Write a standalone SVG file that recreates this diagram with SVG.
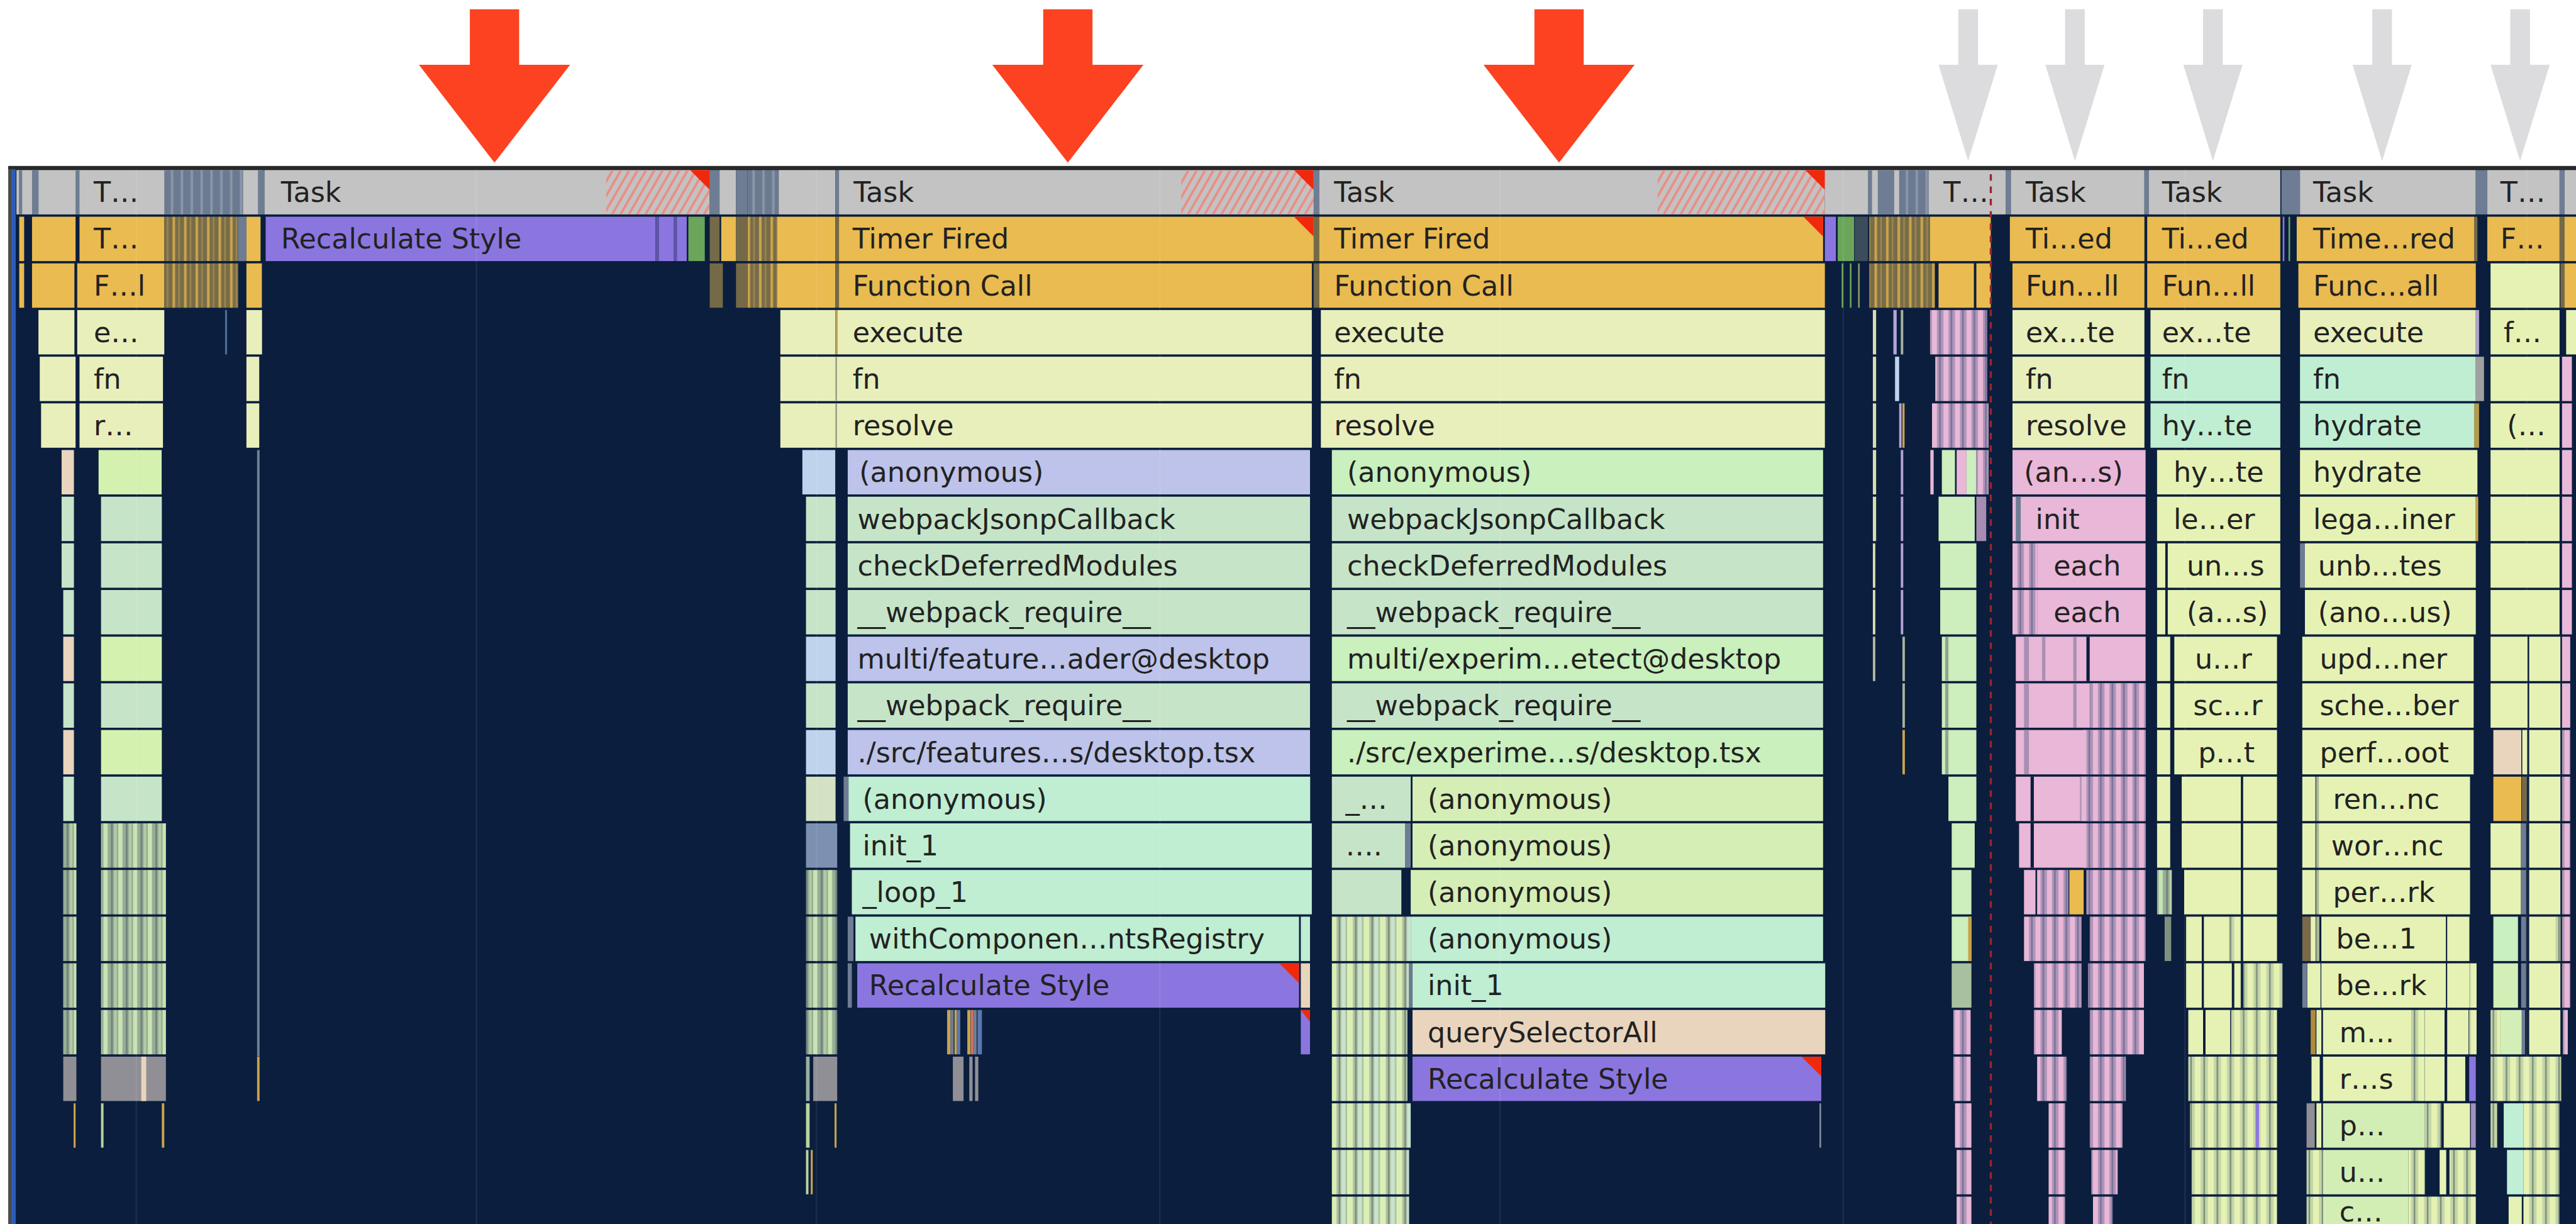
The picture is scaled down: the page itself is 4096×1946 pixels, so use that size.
<svg xmlns="http://www.w3.org/2000/svg" width="4096" height="1946" viewBox="0 0 4096 1946">
<style>
.tk{fill:#c3c3c3}.or{fill:#e9bb50}.ye{fill:#e8efbb}.y2{fill:#e6f2b4}.lv{fill:#bdc3ea}.mn{fill:#c6e5c8}.tl{fill:#bfeed3}.gr{fill:#c9f0bd}.yg{fill:#d5eeb6}.pc{fill:#e9d5bd}.pu{fill:#8b76e0}.pk{fill:#e9b7d7}.lb{fill:#c0d3ec}.sl{fill:#6e7d93}.gn{fill:#6aa55a}.ol{fill:#756a48}.gy{fill:#8f8f95}.lg{fill:#d4f1b0}
.hat{fill:url(#hatch)}.olst{fill:url(#olst)}.slst{fill:url(#slst)}.gst{fill:url(#gst)}.cst{fill:url(#cst)}.yst{fill:url(#yst)}.pst{fill:url(#pst)}
text{font-family:"DejaVu Sans","Liberation Sans",sans-serif;font-size:17px;fill:#222}
.tri{fill:#f0290d}.ra{fill:#fc4220}.ga{fill:#dcdcde}
.grid{stroke:#ffffff;stroke-opacity:0.07;stroke-width:1}
</style>
<defs>
<pattern id="hatch" patternUnits="userSpaceOnUse" width="4.4" height="20" patternTransform="rotate(30)"><rect width="1.5" height="20" fill="#ea8e86"/></pattern>
<pattern id="olst" patternUnits="userSpaceOnUse" width="7" height="30"><rect width="7" height="30" fill="#786c48"/><rect width="1.6" height="30" fill="#c9a34c"/><rect x="3.5" width="1" height="30" fill="#9a8650"/></pattern>
<pattern id="slst" patternUnits="userSpaceOnUse" width="6" height="30"><rect width="6" height="30" fill="#6b7a90"/><rect x="2" width="1.5" height="30" fill="#8a96a8"/></pattern>
<pattern id="gst" patternUnits="userSpaceOnUse" width="9" height="30"><rect width="9" height="30" fill="#98ad96"/><rect width="2.5" height="30" fill="#c7e4b2"/><rect x="4.5" width="1.2" height="30" fill="#72867e"/><rect x="6.5" width="1.5" height="30" fill="#b6cca6"/></pattern>
<pattern id="cst" patternUnits="userSpaceOnUse" width="10" height="30"><rect width="10" height="30" fill="#afc0a0"/><rect width="3.5" height="30" fill="#d9efb5"/><rect x="4.8" width="1" height="30" fill="#7a8e7e"/><rect x="6.5" width="2.5" height="30" fill="#c8e4cc"/></pattern>
<pattern id="yst" patternUnits="userSpaceOnUse" width="8" height="30"><rect width="8" height="30" fill="#c5d6a6"/><rect width="3.5" height="30" fill="#e6f2b4"/><rect x="5.2" width="1" height="30" fill="#7b8d80"/></pattern>
<pattern id="pst" patternUnits="userSpaceOnUse" width="7" height="30"><rect width="7" height="30" fill="#b095b8"/><rect width="3" height="30" fill="#e9b7d7"/><rect x="4.3" width="1" height="30" fill="#76729a"/></pattern>
</defs>
<rect x="0" y="0" width="4096" height="1946" fill="#ffffff"/>
<g transform="scale(2.61224)">
<g id="frame">
<rect x="7" y="101.5" width="1561" height="644" fill="#0b1e3d"/>
<rect x="5" y="101.5" width="2" height="644" fill="#4a4a4a"/>
<rect x="7" y="102" width="2.6" height="643" fill="#2b5db9"/>
<rect x="5" y="101" width="1563" height="2" fill="#2a2a2a"/>
</g>

<g id="sec-a">
<rect class="tk" x="10" y="103.5" width="150" height="27"/>
<rect class="sl" x="11.5" y="103.5" width="2" height="27"/>
<rect class="sl" x="19.5" y="103.5" width="4" height="27"/>
<rect class="sl" x="46" y="103.5" width="2.4" height="27"/>
<rect class="slst" x="100" y="103.5" width="48" height="27"/>
<rect class="sl" x="157" y="103.5" width="4" height="27"/>
<g id="n-a-task"><text x="57" y="123">T…</text></g>
<rect class="or" x="11.7" y="131.9" width="3" height="27"/>
<rect class="or" x="19.5" y="131.9" width="26.5" height="27"/>
<g id="n-a-timer"><rect class="or" x="48.4" y="131.9" width="51.6" height="27"/><text x="57" y="151.4">T…</text></g>
<rect class="olst" x="100" y="131.9" width="45" height="27"/>
<rect class="sl" x="145" y="131.9" width="5" height="27"/>
<rect class="or" x="150" y="131.9" width="8.6" height="27"/>
<rect class="or" x="11.7" y="160.3" width="3" height="27"/>
<rect class="or" x="19.5" y="160.3" width="25.8" height="27"/>
<g id="n-a-func"><rect class="or" x="47" y="160.3" width="53" height="27"/><text x="57" y="179.8">F…l</text></g>
<rect class="olst" x="100" y="160.3" width="45" height="27"/>
<rect class="or" x="150" y="160.3" width="9.4" height="27"/>
<rect class="ye" x="23.4" y="188.7" width="21.9" height="27"/>
<g id="n-a-exec"><rect class="ye" x="47" y="188.7" width="53" height="27"/><text x="57" y="208.2">e…</text></g>
<rect x="137" y="188.7" width="1.2" height="27" fill="#4d6d94"/>
<rect class="ye" x="150" y="188.7" width="9.5" height="27"/>
<rect class="ye" x="24.2" y="217.1" width="21.8" height="27"/>
<g id="n-a-fn"><rect class="ye" x="48.4" y="217.1" width="50.8" height="27"/><text x="57" y="236.6">fn</text></g>
<rect class="ye" x="150" y="217.1" width="7.8" height="27"/>
<rect class="ye" x="25" y="245.5" width="21" height="27"/>
<g id="n-a-res"><rect class="ye" x="48.4" y="245.5" width="50.8" height="27"/><text x="57" y="265">r…</text></g>
<rect class="ye" x="150" y="245.5" width="7.8" height="27"/>
<rect class="pc" x="37.5" y="273.9" width="7.5" height="27"/><rect class="lg" x="60" y="273.9" width="38.4" height="27"/>
<rect class="mn" x="37.5" y="302.3" width="7.5" height="27"/><rect class="mn" x="61.5" y="302.3" width="37" height="27"/>
<rect class="mn" x="37.5" y="330.7" width="7.5" height="27"/><rect class="mn" x="61.5" y="330.7" width="37" height="27"/>
<rect class="mn" x="38.5" y="359.1" width="6.5" height="27"/><rect class="mn" x="61.5" y="359.1" width="37" height="27"/>
<rect class="pc" x="38.5" y="387.5" width="6.5" height="27"/><rect class="lg" x="61.5" y="387.5" width="37" height="27"/>
<rect class="mn" x="38.5" y="415.9" width="6.5" height="27"/><rect class="mn" x="61.5" y="415.9" width="37" height="27"/>
<rect class="pc" x="38.5" y="444.3" width="6.5" height="27"/><rect class="lg" x="61.5" y="444.3" width="37" height="27"/>
<rect class="mn" x="38.5" y="472.7" width="6.5" height="27"/><rect class="mn" x="61.5" y="472.7" width="37" height="27"/>
<rect class="gst" x="38.5" y="501.1" width="8" height="27"/><rect class="gst" x="61.5" y="501.1" width="39.5" height="27"/>
<rect class="gst" x="38.5" y="529.5" width="8" height="27"/><rect class="gst" x="61.5" y="529.5" width="39.5" height="27"/>
<rect class="gst" x="38.5" y="557.9" width="8" height="27"/><rect class="gst" x="61.5" y="557.9" width="39.5" height="27"/>
<rect class="gst" x="38.5" y="586.3" width="8" height="27"/><rect class="gst" x="61.5" y="586.3" width="39.5" height="27"/>
<rect class="gst" x="38.5" y="614.7" width="8" height="27"/><rect class="gst" x="61.5" y="614.7" width="39.5" height="27"/>
<rect class="gy" x="38.5" y="643.1" width="8" height="27"/><rect class="gy" x="61.5" y="643.1" width="39.5" height="27"/><rect class="pc" x="86" y="643.1" width="3" height="27"/>
<rect x="44.8" y="671.5" width="1.2" height="27" fill="#c9a34c"/><rect x="61.5" y="671.5" width="1.5" height="27" fill="#b8d4a0"/><rect x="98.5" y="671.5" width="1.5" height="27" fill="#c9a34c"/>
<rect x="156.5" y="273.9" width="1.5" height="369" fill="#6f8590"/>
<rect x="156.5" y="643.1" width="1.5" height="27" fill="#c9a34c"/>
</g>

<g id="sec-b">
<g id="n-b-task"><rect class="tk" x="161" y="103.5" width="271" height="27"/><rect class="hat" x="369" y="103.5" width="63" height="27"/><polygon class="tri" points="420,103.5 432,103.5 432,115.5"/><text x="171" y="123">Task</text></g>
<rect class="sl" x="432" y="103.5" width="6" height="27"/><rect class="tk" x="438" y="103.5" width="10" height="27"/><rect class="sl" x="448" y="103.5" width="7" height="27"/><rect class="slst" x="455" y="103.5" width="19" height="27"/><rect class="tk" x="474" y="103.5" width="34.5" height="27"/><rect class="sl" x="508.5" y="103.5" width="2.2" height="27"/>
<g id="n-b-task2"><rect class="tk" x="510.7" y="103.5" width="289" height="27"/><rect class="hat" x="719" y="103.5" width="80.7" height="27"/><polygon class="tri" points="787.6,103.5 799.6,103.5 799.6,115.5"/><text x="519.6" y="123">Task</text></g>
<g id="n-b-recalc"><rect class="pu" x="161.7" y="131.9" width="237.3" height="27"/><text x="171" y="151.4">Recalculate Style</text></g>
<rect x="399" y="131.9" width="2" height="27" fill="#5d55a8"/><rect class="pu" x="401" y="131.9" width="9" height="27"/><rect x="410" y="131.9" width="2" height="27" fill="#5d55a8"/><rect class="pu" x="412" y="131.9" width="6" height="27"/><rect class="gn" x="419" y="131.9" width="10" height="27"/>
<rect class="ol" x="432" y="131.9" width="6" height="27"/><rect class="or" x="439" y="131.9" width="9" height="27"/><rect class="ol" x="448" y="131.9" width="7" height="27"/><rect class="olst" x="455" y="131.9" width="18" height="27"/><rect class="or" x="473" y="131.9" width="35.5" height="27"/><rect class="ol" x="508.5" y="131.9" width="2.2" height="27"/>
<g id="n-b-timer"><rect class="or" x="510.7" y="131.9" width="289" height="27"/><polygon class="tri" points="787.6,131.9 799.6,131.9 799.6,143.9"/><text x="519" y="151.4">Timer Fired</text></g>
<rect class="ol" x="432" y="160.3" width="8" height="27"/><rect class="ol" x="448" y="160.3" width="7" height="27"/><rect class="olst" x="455" y="160.3" width="18" height="27"/><rect class="or" x="473" y="160.3" width="35.5" height="27"/><rect class="ol" x="508.5" y="160.3" width="2.2" height="27"/>
<g id="n-b-func"><rect class="or" x="510.7" y="160.3" width="287.8" height="27"/><text x="519" y="179.8">Function Call</text></g>
<rect class="ye" x="475" y="188.7" width="33.5" height="27"/><rect x="508.5" y="188.7" width="1.2" height="27" fill="#b9a05a"/>
<g id="n-b-exec"><rect class="ye" x="509.7" y="188.7" width="288.8" height="27"/><text x="519" y="208.2">execute</text></g>
<g id="n-b-fn"><rect class="ye" x="475" y="217.1" width="323.5" height="27"/><rect x="508.5" y="217.1" width="1" height="27" fill="#9aa08a"/><text x="519" y="236.6">fn</text></g>
<g id="n-b-res"><rect class="ye" x="475" y="245.5" width="323.5" height="27"/><rect x="508.5" y="245.5" width="1" height="27" fill="#9aa08a"/><text x="519" y="265">resolve</text></g>
<rect class="lb" x="488.4" y="273.9" width="20" height="27"/>
<g id="n-b-anon1"><rect class="lv" x="516" y="273.9" width="281.4" height="27"/><text x="523" y="293.4">(anonymous)</text></g>
<rect class="mn" x="490.6" y="302.3" width="18" height="27"/>
<g id="n-b-wjc"><rect class="mn" x="516" y="302.3" width="281.4" height="27"/><text x="522" y="321.8">webpackJsonpCallback</text></g>
<rect class="mn" x="490.6" y="330.7" width="18" height="27"/>
<g id="n-b-cdm"><rect class="mn" x="516" y="330.7" width="281.4" height="27"/><text x="522" y="350.2">checkDeferredModules</text></g>
<rect class="mn" x="490.6" y="359.1" width="18" height="27"/>
<g id="n-b-wr1"><rect class="mn" x="516" y="359.1" width="281.4" height="27"/><text x="522" y="378.6">__webpack_require__</text></g>
<rect class="lb" x="490.6" y="387.5" width="18" height="27"/>
<g id="n-b-multi"><rect class="lv" x="516" y="387.5" width="281.4" height="27"/><text x="522" y="407">multi/feature…ader@desktop</text></g>
<rect class="mn" x="490.6" y="415.9" width="18" height="27"/>
<g id="n-b-wr2"><rect class="mn" x="516" y="415.9" width="281.4" height="27"/><text x="522" y="435.4">__webpack_require__</text></g>
<rect class="lb" x="490.6" y="444.3" width="18" height="27"/>
<g id="n-b-src"><rect class="lv" x="516" y="444.3" width="281.4" height="27"/><text x="522" y="463.8">./src/features…s/desktop.tsx</text></g>
<rect x="490.6" y="472.7" width="18" height="27" fill="#d2e2c2"/>
<rect class="sl" x="513.5" y="472.7" width="3" height="27"/>
<g id="n-b-anon2"><rect class="tl" x="516.5" y="472.7" width="281" height="27"/><text x="525" y="492.2">(anonymous)</text></g>
<rect x="490.6" y="501.1" width="19" height="27" fill="#7c90b2"/>
<g id="n-b-init"><rect class="tl" x="517.4" y="501.1" width="281.1" height="27"/><text x="525" y="520.6">init_1</text></g>
<rect class="gst" x="490.6" y="529.5" width="19" height="27"/>
<g id="n-b-loop"><rect class="tl" x="518.5" y="529.5" width="280" height="27"/><text x="525" y="549">_loop_1</text></g>
<rect class="gst" x="490.6" y="557.9" width="19" height="27"/><rect class="sl" x="516" y="557.9" width="3.5" height="27"/>
<g id="n-b-wcr"><rect class="tl" x="520.7" y="557.9" width="270" height="27"/><text x="529" y="577.4">withComponen…ntsRegistry</text></g>
<rect class="tl" x="791.8" y="557.9" width="5.6" height="27"/>
<rect class="gst" x="490.6" y="586.3" width="19" height="27"/><rect class="sl" x="516" y="586.3" width="2.5" height="27"/>
<g id="n-b-recalc2"><rect class="pu" x="521.8" y="586.3" width="268.9" height="27"/><polygon class="tri" points="778.7,586.3 790.7,586.3 790.7,598.3"/><text x="529" y="605.8">Recalculate Style</text></g>
<rect class="pc" x="791.8" y="586.3" width="5.6" height="27"/>
<rect class="gst" x="490.6" y="614.7" width="19" height="27"/>
<rect x="576.5" y="614.7" width="2" height="27" fill="#c9a34c"/><rect x="578.5" y="614.7" width="2" height="27" fill="#6e7d93"/><rect x="581" y="614.7" width="1.5" height="27" fill="#c9a34c"/><rect x="582.5" y="614.7" width="2" height="27" fill="#5a78b0"/>
<rect x="588.8" y="614.7" width="2" height="27" fill="#c9a34c"/><rect x="591" y="614.7" width="1.5" height="27" fill="#e07060"/><rect x="592.5" y="614.7" width="2" height="27" fill="#6e7d93"/><rect x="595" y="614.7" width="2.7" height="27" fill="#5a78b0"/>
<rect class="pu" x="791.8" y="614.7" width="5.6" height="27"/><polygon class="tri" points="791.8,614.7 797.4,614.7 797.4,622"/>
<rect x="490.6" y="643.1" width="2.2" height="27" fill="#9ab0a0"/><rect class="gy" x="495" y="643.1" width="14.6" height="27"/><rect class="gy" x="580" y="643.1" width="6.5" height="27"/><rect class="gy" x="590" y="643.1" width="2" height="27"/><rect class="gy" x="593.5" y="643.1" width="2" height="27"/>
<rect x="490.6" y="671.5" width="2.2" height="27" fill="#b8d4a0"/><rect x="508" y="671.5" width="1.2" height="27" fill="#c9a34c"/>
<rect x="490.6" y="699.9" width="1.5" height="27" fill="#b8d4a0"/><rect x="493.5" y="699.9" width="1.2" height="27" fill="#c9a34c"/>
</g>

<g id="sec-c">
<rect class="sl" x="799.6" y="103.5" width="3.4" height="27"/>
<g id="n-c-task"><rect class="tk" x="803" y="103.5" width="307.8" height="27"/><rect class="hat" x="1009" y="103.5" width="101.8" height="27"/><polygon class="tri" points="1098.8,103.5 1110.8,103.5 1110.8,115.5"/><text x="812" y="123">Task</text></g>
<rect class="ol" x="799.6" y="131.9" width="3.4" height="27"/>
<g id="n-c-timer"><rect class="or" x="803" y="131.9" width="306.7" height="27"/><polygon class="tri" points="1097.7,131.9 1109.7,131.9 1109.7,143.9"/><text x="812" y="151.4">Timer Fired</text></g>
<rect class="pu" x="1110.8" y="131.9" width="6.7" height="27"/><rect class="gn" x="1118.6" y="131.9" width="10" height="27"/>
<rect class="ol" x="799.6" y="160.3" width="3.4" height="27"/>
<g id="n-c-func"><rect class="or" x="803" y="160.3" width="307.8" height="27"/><text x="812" y="179.8">Function Call</text></g>
<g id="n-c-exec"><rect class="ye" x="804" y="188.7" width="306.8" height="27"/><text x="812" y="208.2">execute</text></g>
<g id="n-c-fn"><rect class="ye" x="804" y="217.1" width="306.8" height="27"/><text x="812" y="236.6">fn</text></g>
<g id="n-c-res"><rect class="ye" x="804" y="245.5" width="306.8" height="27"/><text x="812" y="265">resolve</text></g>
<g id="n-c-anon1"><rect class="gr" x="810.7" y="273.9" width="299" height="27"/><text x="820" y="293.4">(anonymous)</text></g>
<g id="n-c-wjc"><rect class="mn" x="810.7" y="302.3" width="299" height="27"/><text x="820" y="321.8">webpackJsonpCallback</text></g>
<g id="n-c-cdm"><rect class="mn" x="810.7" y="330.7" width="299" height="27"/><text x="820" y="350.2">checkDeferredModules</text></g>
<g id="n-c-wr1"><rect class="mn" x="810.7" y="359.1" width="299" height="27"/><text x="820" y="378.6">__webpack_require__</text></g>
<g id="n-c-multi"><rect class="gr" x="810.7" y="387.5" width="299" height="27"/><text x="820" y="407">multi/experim…etect@desktop</text></g>
<g id="n-c-wr2"><rect class="mn" x="810.7" y="415.9" width="299" height="27"/><text x="820" y="435.4">__webpack_require__</text></g>
<g id="n-c-src"><rect class="gr" x="810.7" y="444.3" width="299" height="27"/><text x="820" y="463.8">./src/experime…s/desktop.tsx</text></g>
<g id="n-c-u1"><rect class="mn" x="810.7" y="472.7" width="48" height="27"/><text x="819" y="492.2">_…</text></g>
<g id="n-c-anon2"><rect class="yg" x="859.8" y="472.7" width="249.9" height="27"/><text x="869" y="492.2">(anonymous)</text></g>
<g id="n-c-u2"><rect class="mn" x="810.7" y="501.1" width="44.7" height="27"/><text x="819" y="520.6">….</text></g>
<rect class="sl" x="855.4" y="501.1" width="3.3" height="27"/>
<g id="n-c-anon3"><rect class="yg" x="859.8" y="501.1" width="249.9" height="27"/><text x="869" y="520.6">(anonymous)</text></g>
<rect class="mn" x="810.7" y="529.5" width="42.3" height="27"/>
<g id="n-c-anon4"><rect class="yg" x="858.7" y="529.5" width="251" height="27"/><text x="869" y="549">(anonymous)</text></g>
<rect class="cst" x="810.7" y="557.9" width="48" height="27"/>
<g id="n-c-anon5"><rect class="tl" x="858.7" y="557.9" width="251" height="27"/><text x="869" y="577.4">(anonymous)</text></g>
<rect class="cst" x="810.7" y="586.3" width="47" height="27"/><rect class="sl" x="857.7" y="586.3" width="2" height="27"/>
<g id="n-c-init"><rect class="tl" x="859.8" y="586.3" width="251.2" height="27"/><text x="869" y="605.8">init_1</text></g>
<rect class="cst" x="810.7" y="614.7" width="46" height="27"/>
<g id="n-c-qsa"><rect class="pc" x="859.8" y="614.7" width="251.2" height="27"/><text x="869" y="634.2">querySelectorAll</text></g>
<rect class="cst" x="810.7" y="643.1" width="46" height="27"/>
<g id="n-c-recalc"><rect class="pu" x="859.8" y="643.1" width="248.8" height="27"/><polygon class="tri" points="1096.6,643.1 1108.6,643.1 1108.6,655.1"/><text x="869" y="662.6">Recalculate Style</text></g>
<rect class="cst" x="810.7" y="671.5" width="48" height="27"/><rect x="1107.5" y="671.5" width="1" height="27" fill="#8090a0"/>
<rect class="cst" x="810.7" y="699.9" width="47" height="27"/>
<rect class="cst" x="810.7" y="728.3" width="47" height="17"/>
</g>

<g id="sec-d">
<rect class="tk" x="1110.8" y="103.5" width="110.2" height="27"/>
<rect class="sl" x="1137" y="103.5" width="2.5" height="27"/><rect class="sl" x="1143" y="103.5" width="10" height="27"/><rect class="slst" x="1156" y="103.5" width="18" height="27"/><rect class="sl" x="1221" y="103.5" width="3" height="27"/>
<g id="n-d-task0"><text x="1183" y="123">T…</text></g>
<rect x="1129" y="131.9" width="8" height="27" fill="#3b4d5a"/><rect class="olst" x="1137.8" y="131.9" width="37" height="27"/><rect class="or" x="1174.8" y="131.9" width="37" height="27"/>
<rect x="1121" y="160.3" width="1" height="27" fill="#6aa55a"/><rect x="1126" y="160.3" width="1" height="27" fill="#6aa55a"/><rect x="1131" y="160.3" width="1" height="27" fill="#8a9a6a"/>
<rect class="olst" x="1137.8" y="160.3" width="40" height="27"/><rect class="or" x="1180" y="160.3" width="21.5" height="27"/><rect class="or" x="1203" y="160.3" width="8.8" height="27"/>
<rect x="1140" y="188.7" width="2" height="27" fill="#d9dcae"/><rect x="1152.5" y="188.7" width="2" height="27" fill="#b5a3d6"/><rect x="1157" y="188.7" width="1.5" height="27" fill="#a6b3a0"/><rect class="pst" x="1174.8" y="188.7" width="34.8" height="27"/>
<rect x="1140" y="217.1" width="2" height="27" fill="#d9dcae"/><rect class="lb" x="1153.5" y="217.1" width="2.5" height="27"/><rect class="pst" x="1178" y="217.1" width="31.6" height="27"/>
<rect x="1140" y="245.5" width="2" height="27" fill="#d9dcae"/><rect x="1156" y="245.5" width="1.5" height="27" fill="#b5a3d6"/><rect x="1158" y="245.5" width="1.3" height="27" fill="#c9a34c"/><rect class="pst" x="1176" y="245.5" width="34.5" height="27"/>
<rect x="1140" y="273.9" width="2" height="27" fill="#d9dcae"/><rect x="1157" y="273.9" width="1.5" height="27" fill="#b5a3d6"/><rect class="pk" x="1175" y="273.9" width="2" height="27"/><rect x="1182" y="273.9" width="8" height="27" fill="#cdeebd"/><rect class="pk" x="1191" y="273.9" width="6" height="27"/><rect x="1197" y="273.9" width="6" height="27" fill="#cdeebd"/><rect class="pst" x="1203" y="273.9" width="7.5" height="27"/>
<rect x="1140" y="302.3" width="2" height="27" fill="#d9dcae"/><rect x="1157" y="302.3" width="1.5" height="27" fill="#b5a3d6"/><rect x="1180" y="302.3" width="22" height="27" fill="#cdeebd"/><rect x="1203" y="302.3" width="6" height="27" fill="#a88db2"/>
<rect x="1140" y="330.7" width="1.5" height="27" fill="#d9dcae"/><rect x="1157" y="330.7" width="1.5" height="27" fill="#b5a3d6"/><rect x="1181" y="330.7" width="22" height="27" fill="#cdeebd"/>
<rect x="1140" y="359.1" width="1.5" height="27" fill="#d9dcae"/><rect x="1157" y="359.1" width="1.5" height="27" fill="#b5a3d6"/><rect x="1181" y="359.1" width="22" height="27" fill="#cdeebd"/>
<rect x="1140" y="387.5" width="1.5" height="27" fill="#b0b8a0"/><rect x="1158" y="387.5" width="1.5" height="27" fill="#a6b3a0"/><rect x="1182" y="387.5" width="21" height="27" fill="#cdeebd"/><rect x="1184" y="387.5" width="2" height="27" fill="#8fa590"/>
<rect x="1158" y="415.9" width="1.5" height="27" fill="#a6b3a0"/><rect x="1182" y="415.9" width="21" height="27" fill="#cdeebd"/><rect x="1184" y="415.9" width="2" height="27" fill="#8fa590"/>
<rect x="1158" y="444.3" width="1.5" height="27" fill="#c9a34c"/><rect x="1182" y="444.3" width="21" height="27" fill="#cdeebd"/><rect x="1184" y="444.3" width="2" height="27" fill="#8fa590"/>
<rect x="1186" y="472.7" width="17" height="27" fill="#cdeebd"/>
<rect x="1188" y="501.1" width="14" height="27" fill="#cdeebd"/>
<rect x="1188" y="529.5" width="12" height="27" fill="#cdeebd"/>
<rect x="1188" y="557.9" width="12" height="27" fill="#cdeebd"/><rect x="1198" y="557.9" width="2" height="27" fill="#c9a34c"/>
<rect x="1188" y="586.3" width="12" height="27" fill="#a9c0a0"/>
<rect class="pst" x="1189" y="614.7" width="10.5" height="27"/>
<rect class="pst" x="1189" y="643.1" width="10.5" height="27"/>
<rect class="pst" x="1190" y="671.5" width="10" height="27"/>
<rect class="pst" x="1191" y="699.9" width="9" height="27"/>
<rect class="pst" x="1191" y="728.3" width="9" height="17"/>
<g id="n-d-task"><rect class="tk" x="1224" y="103.5" width="81.3" height="27"/><text x="1233" y="123">Task</text></g>
<g id="n-d-timer"><rect class="or" x="1223.4" y="131.9" width="81.9" height="27"/><text x="1233" y="151.4">Ti…ed</text></g>
<g id="n-d-func"><rect class="or" x="1225" y="160.3" width="80.3" height="27"/><text x="1233" y="179.8">Fun…ll</text></g>
<g id="n-d-exec"><rect class="ye" x="1225" y="188.7" width="80.3" height="27"/><text x="1233" y="208.2">ex…te</text></g>
<g id="n-d-fn"><rect class="ye" x="1225" y="217.1" width="80.3" height="27"/><text x="1233" y="236.6">fn</text></g>
<g id="n-d-res"><rect class="ye" x="1225" y="245.5" width="80.3" height="27"/><text x="1233" y="265">resolve</text></g>
<g id="n-d-anon"><rect class="pk" x="1225" y="273.9" width="81" height="27"/><text x="1232" y="293.4">(an…s)</text></g>
<g id="n-d-init"><rect class="pk" x="1225" y="302.3" width="81" height="27"/><rect class="sl" x="1227" y="302.3" width="3" height="27"/><text x="1239" y="321.8">init</text></g>
<rect class="pst" x="1225" y="330.7" width="15" height="27"/>
<g id="n-d-each1"><rect class="pk" x="1240" y="330.7" width="66" height="27"/><text x="1250" y="350.2">each</text></g>
<rect class="pst" x="1225" y="359.1" width="15" height="27"/>
<g id="n-d-each2"><rect class="pk" x="1240" y="359.1" width="66" height="27"/><text x="1250" y="378.6">each</text></g>
<rect class="pk" x="1227" y="387.5" width="79" height="27"/><rect x="1232" y="387.5" width="3" height="27" fill="#a98fb2"/><rect x="1243" y="387.5" width="2" height="27" fill="#a98fb2"/><rect x="1262" y="387.5" width="2" height="27" fill="#a98fb2"/><rect x="1270" y="387.5" width="2" height="27" fill="#0b1e3d"/>
<rect class="pk" x="1227" y="415.9" width="79" height="27"/><rect x="1232" y="415.9" width="3" height="27" fill="#a98fb2"/><rect x="1262" y="415.9" width="2" height="27" fill="#a98fb2"/><rect class="pst" x="1272" y="415.9" width="34" height="27"/>
<rect class="pk" x="1227" y="444.3" width="79" height="27"/><rect x="1232" y="444.3" width="3" height="27" fill="#a98fb2"/><rect class="pst" x="1268" y="444.3" width="38" height="27"/>
<rect class="pk" x="1227" y="472.7" width="79" height="27"/><rect x="1236" y="472.7" width="2" height="27" fill="#0b1e3d"/><rect class="pst" x="1266" y="472.7" width="40" height="27"/>
<rect class="pk" x="1229" y="501.1" width="77" height="27"/><rect x="1236" y="501.1" width="2" height="27" fill="#0b1e3d"/><rect class="pst" x="1268" y="501.1" width="38" height="27"/>
<rect class="pk" x="1232" y="529.5" width="7" height="27"/><rect class="pst" x="1240" y="529.5" width="19" height="27"/><rect class="or" x="1259.6" y="529.5" width="8.7" height="27"/><rect class="pst" x="1270" y="529.5" width="36" height="27"/>
<rect class="pst" x="1232" y="557.9" width="35" height="27"/><rect class="pst" x="1272" y="557.9" width="34" height="27"/>
<rect class="pst" x="1238" y="586.3" width="29" height="27"/><rect class="pst" x="1271" y="586.3" width="34" height="27"/>
<rect class="pst" x="1238" y="614.7" width="17" height="27"/><rect class="pst" x="1272" y="614.7" width="33" height="27"/>
<rect class="pst" x="1240" y="643.1" width="18" height="27"/><rect class="pst" x="1272" y="643.1" width="22" height="27"/>
<rect class="pst" x="1247" y="671.5" width="10" height="27"/><rect class="pst" x="1272" y="671.5" width="20" height="27"/>
<rect class="pst" x="1247" y="699.9" width="10" height="27"/><rect class="pst" x="1273" y="699.9" width="16" height="27"/>
<rect class="pst" x="1247" y="728.3" width="10" height="17"/><rect class="pst" x="1274" y="728.3" width="12" height="17"/>
</g>

<g id="sec-e">
<rect class="sl" x="1305.3" y="103.5" width="2.7" height="27"/>
<g id="n-e-task"><rect class="tk" x="1308" y="103.5" width="80" height="27"/><text x="1316" y="123">Task</text></g>
<g id="n-e-timer"><rect class="or" x="1307" y="131.9" width="81" height="27"/><text x="1316" y="151.4">Ti…ed</text></g>
<g id="n-e-func"><rect class="or" x="1307" y="160.3" width="81" height="27"/><text x="1316" y="179.8">Fun…ll</text></g>
<g id="n-e-exec"><rect class="ye" x="1309" y="188.7" width="79" height="27"/><text x="1316" y="208.2">ex…te</text></g>
<g id="n-e-fn"><rect class="tl" x="1309" y="217.1" width="79" height="27"/><text x="1316" y="236.6">fn</text></g>
<g id="n-e-hy1"><rect class="tl" x="1309" y="245.5" width="79" height="27"/><text x="1316" y="265">hy…te</text></g>
<g id="n-e-hy2"><rect class="y2" x="1313" y="273.9" width="75" height="27"/><text x="1323" y="293.4">hy…te</text></g>
<g id="n-e-le"><rect class="y2" x="1313" y="302.3" width="75" height="27"/><text x="1323" y="321.8">le…er</text></g>
<rect class="y2" x="1313" y="330.7" width="5" height="27"/>
<g id="n-e-un"><rect class="y2" x="1319.5" y="330.7" width="68.5" height="27"/><text x="1331" y="350.2">un…s</text></g>
<rect class="y2" x="1313" y="359.1" width="5" height="27"/>
<g id="n-e-as"><rect class="y2" x="1319.5" y="359.1" width="68.5" height="27"/><text x="1331" y="378.6">(a…s)</text></g>
<rect class="y2" x="1313" y="387.5" width="8" height="27"/>
<g id="n-e-ur"><rect class="y2" x="1323.5" y="387.5" width="62.5" height="27"/><text x="1336" y="407">u…r</text></g>
<rect class="y2" x="1313" y="415.9" width="8" height="27"/>
<g id="n-e-sc"><rect class="y2" x="1323.5" y="415.9" width="62.5" height="27"/><text x="1335" y="435.4">sc…r</text></g>
<rect class="y2" x="1313" y="444.3" width="8" height="27"/>
<g id="n-e-pt"><rect class="y2" x="1323.5" y="444.3" width="62.5" height="27"/><text x="1338" y="463.8">p…t</text></g>
<rect class="y2" x="1313" y="472.7" width="8" height="27"/><rect class="y2" x="1328" y="472.7" width="36" height="27"/><rect class="y2" x="1365.4" y="472.7" width="20.6" height="27"/>
<rect class="y2" x="1313" y="501.1" width="8" height="27"/><rect class="y2" x="1328" y="501.1" width="36" height="27"/><rect class="y2" x="1365.4" y="501.1" width="20.6" height="27"/>
<rect class="gst" x="1313" y="529.5" width="9" height="27"/><rect class="y2" x="1329.5" y="529.5" width="34.5" height="27"/><rect class="y2" x="1365.4" y="529.5" width="20.6" height="27"/>
<rect x="1317.6" y="557.9" width="4" height="27" fill="#7d917e"/><rect class="y2" x="1330.7" y="557.9" width="9.5" height="27"/><rect class="y2" x="1341.5" y="557.9" width="15.5" height="27"/><rect class="yst" x="1357" y="557.9" width="7" height="27"/><rect class="y2" x="1365.4" y="557.9" width="20.6" height="27"/>
<rect class="y2" x="1330.7" y="586.3" width="9.5" height="27"/><rect class="y2" x="1341.5" y="586.3" width="17" height="27"/><rect class="yst" x="1360" y="586.3" width="4" height="27"/><rect class="yst" x="1365.4" y="586.3" width="24" height="27"/>
<rect class="y2" x="1332" y="614.7" width="9" height="27"/><rect class="y2" x="1342.5" y="614.7" width="15" height="27"/><rect class="yst" x="1358" y="614.7" width="6" height="27"/><rect class="yst" x="1364" y="614.7" width="22" height="27"/>
<rect class="yst" x="1332" y="643.1" width="54" height="27"/>
<rect class="yst" x="1333" y="671.5" width="53" height="27"/><rect x="1373" y="671.5" width="2" height="27" fill="#8b76e0"/>
<rect class="yst" x="1334" y="699.9" width="52" height="27"/>
<rect class="yst" x="1334" y="728.3" width="52" height="17"/>
</g>

<g id="sec-f">
<rect class="sl" x="1388.7" y="103.5" width="11.3" height="27"/>
<g id="n-f-task"><rect class="tk" x="1400" y="103.5" width="107" height="27"/><text x="1408" y="123">Task</text></g>
<rect x="1389.5" y="131.9" width="1" height="27" fill="#8b76e0"/><rect x="1393" y="131.9" width="1" height="27" fill="#6aa55a"/>
<g id="n-f-timer"><rect class="or" x="1398" y="131.9" width="108" height="27"/><text x="1408" y="151.4">Time…red</text></g>
<rect class="ol" x="1506" y="131.9" width="2" height="27"/>
<g id="n-f-func"><rect class="or" x="1399" y="160.3" width="108" height="27"/><text x="1408" y="179.8">Func…all</text></g>
<g id="n-f-exec"><rect class="ye" x="1400" y="188.7" width="107" height="27"/><text x="1408" y="208.2">execute</text></g>
<rect x="1507" y="188.7" width="2" height="27" fill="#b0a4c8"/>
<g id="n-f-fn"><rect class="tl" x="1400" y="217.1" width="107" height="27"/><text x="1408" y="236.6">fn</text></g>
<rect x="1507" y="217.1" width="5" height="27" fill="#a0a0a0"/>
<g id="n-f-hy1"><rect class="tl" x="1400" y="245.5" width="106" height="27"/><text x="1408" y="265">hydrate</text></g>
<rect x="1506" y="245.5" width="3" height="27" fill="#b09a50"/>
<g id="n-f-hy2"><rect class="y2" x="1400" y="273.9" width="108" height="27"/><text x="1408" y="293.4">hydrate</text></g>
<g id="n-f-lega"><rect class="y2" x="1400" y="302.3" width="107" height="27"/><text x="1408" y="321.8">lega…iner</text></g>
<rect x="1507" y="302.3" width="1.5" height="27" fill="#c9a34c"/>
<rect class="sl" x="1400" y="330.7" width="3" height="27"/>
<g id="n-f-unb"><rect class="y2" x="1403" y="330.7" width="104" height="27"/><text x="1411" y="350.2">unb…tes</text></g>
<g id="n-f-ano"><rect class="y2" x="1403" y="359.1" width="104" height="27"/><text x="1411" y="378.6">(ano…us)</text></g>
<g id="n-f-upd"><rect class="y2" x="1401.4" y="387.5" width="104.3" height="27"/><text x="1412" y="407">upd…ner</text></g>
<g id="n-f-sche"><rect class="y2" x="1401.4" y="415.9" width="104.3" height="27"/><text x="1412" y="435.4">sche…ber</text></g>
<g id="n-f-perf"><rect class="y2" x="1401.4" y="444.3" width="104.3" height="27"/><text x="1412" y="463.8">perf…oot</text></g>
<rect class="y2" x="1401.4" y="472.7" width="8" height="27"/><rect x="1409.8" y="472.7" width="2" height="27" fill="#a9b894"/>
<g id="n-f-ren"><rect class="y2" x="1411.5" y="472.7" width="92" height="27"/><text x="1420" y="492.2">ren…nc</text></g>
<rect class="y2" x="1401.4" y="501.1" width="8" height="27"/><rect x="1409.8" y="501.1" width="2" height="27" fill="#a9b894"/>
<g id="n-f-wor"><rect class="y2" x="1411.5" y="501.1" width="92" height="27"/><text x="1419" y="520.6">wor…nc</text></g>
<rect class="y2" x="1401.4" y="529.5" width="8" height="27"/><rect x="1409.8" y="529.5" width="2" height="27" fill="#a9b894"/>
<g id="n-f-per"><rect class="y2" x="1411.5" y="529.5" width="92" height="27"/><text x="1420" y="549">per…rk</text></g>
<rect x="1401.4" y="557.9" width="5" height="27" fill="#7a6a48"/><rect class="y2" x="1406.5" y="557.9" width="3" height="27"/><rect x="1409.8" y="557.9" width="2" height="27" fill="#a9b894"/>
<g id="n-f-be1"><rect class="y2" x="1413" y="557.9" width="75.8" height="27"/><text x="1422" y="577.4">be…1</text></g>
<rect class="y2" x="1489.6" y="557.9" width="13.5" height="27"/>
<rect class="sl" x="1401.4" y="586.3" width="3" height="27"/><rect class="y2" x="1404.5" y="586.3" width="8" height="27"/>
<g id="n-f-be2"><rect class="y2" x="1413" y="586.3" width="75.8" height="27"/><text x="1422" y="605.8">be…rk</text></g>
<rect class="y2" x="1489.6" y="586.3" width="13.5" height="27"/><rect class="yst" x="1503" y="586.3" width="4.5" height="27"/>
<rect x="1406.5" y="614.7" width="3" height="27" fill="#b08a3a"/><rect class="y2" x="1410" y="614.7" width="3" height="27"/>
<g id="n-f-m"><rect class="y2" x="1414" y="614.7" width="54" height="27"/><text x="1424" y="634.2">m…</text></g>
<rect class="yst" x="1468" y="614.7" width="8" height="27"/><rect class="y2" x="1476" y="614.7" width="12" height="27"/><rect class="y2" x="1489.6" y="614.7" width="13" height="27"/><rect class="yst" x="1503" y="614.7" width="4.5" height="27"/>
<rect class="y2" x="1407" y="643.1" width="5" height="27"/>
<g id="n-f-rs"><rect class="y2" x="1414" y="643.1" width="54" height="27"/><text x="1424" y="662.6">r…s</text></g>
<rect class="yst" x="1468" y="643.1" width="8" height="27"/><rect class="y2" x="1476" y="643.1" width="12" height="27"/><rect class="y2" x="1489.6" y="643.1" width="11" height="27"/><rect x="1503" y="643.1" width="4" height="27" fill="#8b76e0"/>
<rect class="gy" x="1404" y="671.5" width="5" height="27"/><rect class="y2" x="1410" y="671.5" width="3" height="27"/>
<g id="n-f-p"><rect x="1414" y="671.5" width="62" height="27" fill="#d3eeb5"/><text x="1424" y="691">p…</text></g>
<rect class="yst" x="1476" y="671.5" width="10" height="27"/><rect class="y2" x="1487.5" y="671.5" width="16" height="27"/><rect x="1504" y="671.5" width="3" height="27" fill="#a390c0"/>
<rect class="yst" x="1404" y="699.9" width="10" height="27"/>
<g id="n-f-u"><rect x="1414" y="699.9" width="52" height="27" fill="#d3eeb5"/><text x="1424" y="719.4">u…</text></g>
<rect class="yst" x="1466" y="699.9" width="10" height="27"/><rect class="y2" x="1485" y="699.9" width="4" height="27"/><rect class="yst" x="1491" y="699.9" width="16" height="27"/>
<rect class="yst" x="1404" y="728.3" width="10" height="17"/>
<g id="n-f-c"><rect x="1414" y="728.3" width="52" height="17" fill="#d3eeb5"/><text x="1424" y="743.5">c…</text></g>
<rect class="yst" x="1466" y="728.3" width="41" height="17"/>
</g>

<g id="sec-g">
<rect class="sl" x="1507" y="103.5" width="7" height="27"/>
<g id="n-g-task"><rect class="tk" x="1514" y="103.5" width="44" height="27"/><text x="1522" y="123">T…</text></g>
<rect class="sl" x="1558" y="103.5" width="3" height="27"/><rect class="tk" x="1561" y="103.5" width="7" height="27"/>
<g id="n-g-timer"><rect class="or" x="1514" y="131.9" width="44" height="27"/><text x="1522" y="151.4">F…</text></g>
<rect class="ol" x="1558" y="131.9" width="3" height="27"/><rect class="or" x="1561" y="131.9" width="7" height="27"/>
<rect class="y2" x="1516" y="160.3" width="42" height="27"/><rect class="ol" x="1558.5" y="160.3" width="2.5" height="27"/><rect class="or" x="1561" y="160.3" width="7" height="27"/>
<g id="n-g-f"><rect class="y2" x="1516" y="188.7" width="42" height="27"/><text x="1524" y="208.2">f…</text></g>
<rect class="y2" x="1562" y="188.7" width="6" height="27"/>
<rect class="y2" x="1516" y="217.1" width="42" height="27"/><rect class="pk" x="1559.5" y="217.1" width="6" height="27"/>
<g id="n-g-p"><rect class="y2" x="1516" y="245.5" width="42" height="27"/><text x="1526" y="265">(…</text></g>
<rect class="pk" x="1559.5" y="245.5" width="6" height="27"/>
<rect class="y2" x="1516" y="273.9" width="42" height="27"/><rect class="pk" x="1559.5" y="273.9" width="6" height="27"/>
<rect class="y2" x="1516" y="302.3" width="42" height="27"/><rect class="pk" x="1559.5" y="302.3" width="6" height="27"/>
<rect class="y2" x="1516" y="330.7" width="42" height="27"/><rect class="pk" x="1559.5" y="330.7" width="6" height="27"/>
<rect class="y2" x="1516" y="359.1" width="42" height="27"/><rect class="pk" x="1559.5" y="359.1" width="6" height="27"/>
<rect class="y2" x="1516" y="387.5" width="22.5" height="27"/><rect class="y2" x="1539.5" y="387.5" width="19" height="27"/><rect class="pk" x="1559.5" y="387.5" width="5" height="27"/>
<rect class="y2" x="1516" y="415.9" width="22.5" height="27"/><rect class="y2" x="1539.5" y="415.9" width="19" height="27"/><rect class="pk" x="1559.5" y="415.9" width="5" height="27"/>
<rect class="pc" x="1517.7" y="444.3" width="17" height="27"/><rect class="y2" x="1535.3" y="444.3" width="3" height="27"/><rect class="y2" x="1539.5" y="444.3" width="19" height="27"/><rect class="pst" x="1559.5" y="444.3" width="5" height="27"/>
<rect class="or" x="1517.7" y="472.7" width="17" height="27"/><rect class="ol" x="1535" y="472.7" width="3" height="27"/><rect class="y2" x="1539.5" y="472.7" width="19" height="27"/><rect class="pst" x="1559.5" y="472.7" width="5" height="27"/>
<rect class="y2" x="1516" y="501.1" width="18.5" height="27"/><rect class="sl" x="1534.6" y="501.1" width="3" height="27"/><rect class="y2" x="1539.5" y="501.1" width="19" height="27"/><rect class="pst" x="1559.5" y="501.1" width="5" height="27"/>
<rect class="y2" x="1516" y="529.5" width="18.5" height="27"/><rect class="sl" x="1534.6" y="529.5" width="3" height="27"/><rect class="y2" x="1539.5" y="529.5" width="19" height="27"/><rect class="pst" x="1559.5" y="529.5" width="5" height="27"/>
<rect x="1517.7" y="557.9" width="15" height="27" fill="#c8f0c0"/><rect class="sl" x="1534.6" y="557.9" width="3" height="27"/><rect class="y2" x="1539.5" y="557.9" width="16" height="27"/><rect class="yst" x="1555" y="557.9" width="3.6" height="27"/><rect class="pst" x="1559.5" y="557.9" width="5" height="27"/>
<rect x="1517.7" y="586.3" width="15" height="27" fill="#d4eeb8"/><rect class="sl" x="1534.6" y="586.3" width="3" height="27"/><rect class="y2" x="1539.5" y="586.3" width="19" height="27"/><rect class="pst" x="1559.5" y="586.3" width="5" height="27"/>
<rect class="yst" x="1516" y="614.7" width="6" height="27"/><rect x="1522" y="614.7" width="13" height="27" fill="#d4eeb8"/><rect class="sl" x="1535" y="614.7" width="2" height="27"/><rect class="y2" x="1539.5" y="614.7" width="19" height="27"/><rect class="pst" x="1560" y="614.7" width="3" height="27"/>
<rect class="yst" x="1516" y="643.1" width="43" height="27"/>
<rect class="yst" x="1516" y="671.5" width="4" height="27"/><rect x="1524" y="671.5" width="12" height="27" fill="#c0efd6"/><rect class="yst" x="1536" y="671.5" width="22" height="27"/>
<rect x="1526" y="699.9" width="10" height="27" fill="#c0efd6"/><rect class="yst" x="1536" y="699.9" width="22" height="27"/>
<rect class="y2" x="1527" y="728.3" width="8" height="17"/><rect class="yst" x="1536" y="728.3" width="22" height="17"/>
</g>

<g id="overlays">
<line class="grid" x1="83" y1="103" x2="83" y2="745"/>
<line class="grid" x1="290" y1="103" x2="290" y2="745"/>
<line class="grid" x1="497" y1="103" x2="497" y2="745"/>
<line class="grid" x1="706" y1="103" x2="706" y2="745"/>
<line class="grid" x1="913" y1="103" x2="913" y2="745"/>
<line class="grid" x1="1122" y1="103" x2="1122" y2="745"/>
<line class="grid" x1="1330" y1="103" x2="1330" y2="745"/>
<line class="grid" x1="1538" y1="103" x2="1538" y2="745"/>
<line x1="1211.8" y1="106" x2="1211.8" y2="745" stroke="#9a2430" stroke-width="1.3" stroke-dasharray="4 3.5"/>
</g>

<g id="arrows">
<polygon class="ra" points="286,5.6 316,5.6 316,39.4 347,39.4 301,99 255,39.4 286,39.4"/>
<polygon class="ra" points="635,5.6 665,5.6 665,39.4 696,39.4 650,99 604,39.4 635,39.4"/>
<polygon class="ra" points="934,5.6 964,5.6 964,39.4 995,39.4 949,99 903,39.4 934,39.4"/>
<polygon class="ga" points="1192,5.6 1204,5.6 1204,39.4 1216,39.4 1198,98 1180,39.4 1192,39.4"/>
<polygon class="ga" points="1257,5.6 1269,5.6 1269,39.4 1281,39.4 1263,98 1245,39.4 1257,39.4"/>
<polygon class="ga" points="1341,5.6 1353,5.6 1353,39.4 1365,39.4 1347,98 1329,39.4 1341,39.4"/>
<polygon class="ga" points="1444,5.6 1456,5.6 1456,39.4 1468,39.4 1450,98 1432,39.4 1444,39.4"/>
<polygon class="ga" points="1528,5.6 1540,5.6 1540,39.4 1552,39.4 1534,98 1516,39.4 1528,39.4"/>
</g>
</g>
</svg>
